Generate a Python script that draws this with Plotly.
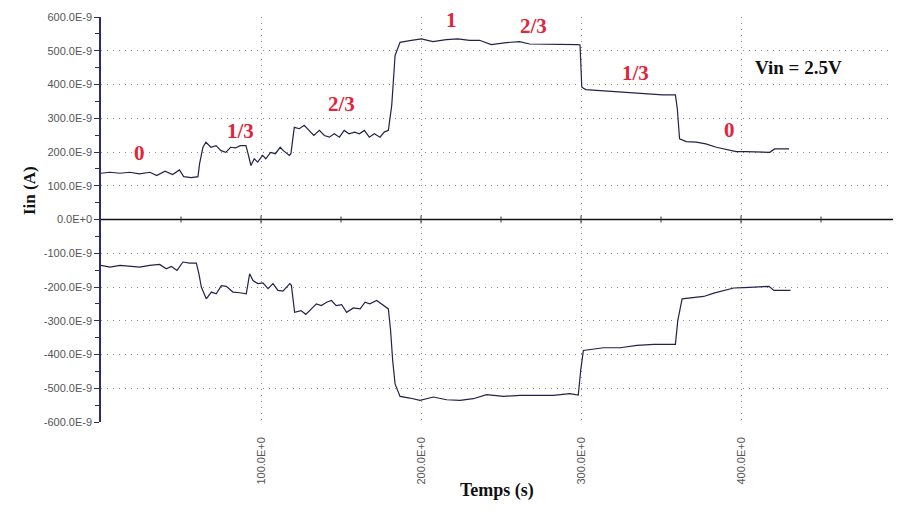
import plotly.graph_objects as go

# ---- data (time in s, current in nA) ----
t_pos = [0, 5.6, 11.9, 18, 24, 30.6, 34.8, 40, 44.8, 49,
         51.7, 56.4, 60.6, 61.6, 63.7, 65.6, 68.7, 71.9, 75, 78,
         81, 84, 87, 90.6, 91.7, 93.7, 95.8, 97.9, 101, 103,
         106, 109, 112, 114, 117.7, 118.7, 120.8, 124, 127, 130,
         133, 136.5, 139.6, 142.7, 145.8, 149, 152, 155, 158.5, 161.5,
         164.6, 167.7, 170.8, 174.4, 177, 179.6, 181.7, 183.8, 186.9, 193,
         200.2, 207.5, 215.8, 223, 230.4, 236.6, 243.9, 253.3, 261.6, 267.9,
         278.3, 288.7, 298, 299.4, 300.5, 303, 311.5, 320, 330, 341,
         351, 359, 360.2, 361.6, 365.8, 372, 378, 384.6, 390.8, 397,
         403, 412, 418, 421, 430]
v_pos = [137, 140, 137, 140, 135, 140, 130, 143, 133, 147,
         127, 124, 127, 165, 214, 229, 214, 219, 204, 199,
         214, 212, 219, 219, 199, 160, 180, 170, 190, 180,
         199, 195, 214, 204, 190, 195, 273, 269, 279, 264,
         249, 264, 249, 244, 254, 244, 264, 254, 259, 254,
         264, 244, 254, 244, 259, 264, 338, 486, 525, 530,
         535, 527, 533, 535, 531, 531, 518, 524, 527, 520,
         520, 518, 518, 517, 392, 385, 382, 379, 377, 372,
         369, 369, 328, 239, 231, 229, 224, 214, 207, 201,
         201, 199, 199, 209, 209]

t_neg = [0, 5.6, 11.9, 18, 24.2, 30.4, 36.7, 40.8, 44, 47.5,
         51.2, 55.4, 59.6, 61.2, 62.7, 65.8, 69, 72, 75.2, 78.3,
         82.5, 86.7, 90.8, 92.9, 95, 98, 101.2, 104.4, 107.5, 110.6,
         113.7, 118, 119, 121, 125, 128, 131.5, 134.6, 137.7, 141,
         144, 147, 150.4, 153.5, 157.7, 162, 165, 168, 172.3, 176.5,
         179.6, 181, 182.3, 183.8, 186.9, 193, 199.4, 207.7, 216, 224.4,
         232.7, 241, 251.5, 262, 272.3, 282.7, 293, 298.3, 299.8, 301.5,
         314, 324.4, 335, 345.4, 359, 360.5, 363.2, 370.5, 376.7, 383,
         389.2, 395.5, 401.8, 410, 417.5, 420.6, 431]
v_neg = [-136, -141, -136, -139, -141, -136, -133, -146, -139, -151,
         -126, -129, -129, -161, -200, -235, -215, -220, -196, -198,
         -215, -217, -220, -161, -181, -190, -188, -205, -190, -210,
         -212, -190, -195, -275, -270, -281, -265, -250, -255, -245,
         -240, -255, -252, -275, -262, -265, -245, -250, -240, -255,
         -265, -329, -418, -487, -524, -529, -536, -526, -534, -536,
         -531, -519, -524, -521, -522, -521, -516, -520, -447, -388,
         -380, -380, -373, -370, -370, -299, -235, -230, -228, -218,
         -210, -203, -202, -200, -198, -210, -210]

y_tickvals = [600, 500, 400, 300, 200, 100, 0, -100, -200, -300, -400, -500, -600]
y_ticktext = ["600.0E-9", "500.0E-9", "400.0E-9", "300.0E-9", "200.0E-9", "100.0E-9",
              "0.0E+0", "-100.0E-9", "-200.0E-9", "-300.0E-9", "-400.0E-9",
              "-500.0E-9", "-600.0E-9"]
y_minor = [550, 450, 350, 250, 150, 50, -50, -150, -250, -350, -450, -550]
x_tickvals = [100, 200, 300, 400, 500]
x_ticktext = ["100.0E+0", "200.0E+0", "300.0E+0", "400.0E+0", "500.0E+0"]
x_minor = [50, 150, 250, 350, 450]

labels_text = ["0", "1/3", "2/3", "1", "2/3", "1/3", "0"]
labels_t = [23.8, 87, 150, 218.8, 270, 334, 392.5]
labels_v = [197, 261, 342, 590, 572, 435, 264]

line_col = "#22224e"
red = "#e3233a"
grid_col = "#8a8a8a"
axis_col = "#2c2c6c"

fig = go.Figure()
fig.add_trace(go.Scatter(x=t_pos, y=v_pos, mode="lines",
                         line=dict(color=line_col, width=1.2), showlegend=False))
fig.add_trace(go.Scatter(x=t_neg, y=v_neg, mode="lines",
                         line=dict(color=line_col, width=1.2), showlegend=False))

# zero line (x axis crossing) with its tick marks
fig.add_shape(type="line", xref="paper", yref="y", x0=0, x1=1, y0=0, y1=0,
              line=dict(color="#111111", width=1.5), layer="above")
for xv, half in [(v, 4) for v in x_tickvals] + [(v, 3) for v in x_minor]:
    fig.add_shape(type="line", xref="x", yref="y", ysizemode="pixel", yanchor=0,
                  x0=xv, x1=xv, y0=-half, y1=half,
                  line=dict(color="#333333", width=1), layer="above")

for txt, tx, vy in zip(labels_text, labels_t, labels_v):
    fig.add_annotation(x=tx, y=vy, text=txt, showarrow=False,
                       font=dict(family="Liberation Serif", size=21, color=red, weight="bold"))

fig.add_annotation(x=436, y=449, text="Vin = 2.5V", showarrow=False,
                   font=dict(family="Liberation Serif", size=19, color="#111111", weight="bold"))

fig.add_annotation(xref="paper", yref="paper", x=0, y=0.5, xshift=-83, yshift=29,
                   text="Iin (A)", textangle=-90, showarrow=False,
                   font=dict(family="Liberation Serif", size=17, color="#111111", weight="bold"))
fig.add_annotation(xref="paper", yref="paper", x=0.495, y=0, yshift=-81,
                   text="Temps (s)", showarrow=False,
                   font=dict(family="Liberation Serif", size=18, color="#111111", weight="bold"))

fig.update_layout(
    width=893, height=513,
    margin=dict(l=93, r=0, t=9, b=99, autoexpand=False),
    paper_bgcolor="white", plot_bgcolor="white",
    xaxis=dict(range=[0, 500], tickmode="array", tickvals=x_tickvals, ticktext=x_ticktext,
               tickangle=-90, ticks="", ticklabelstandoff=12, ticklabeloverflow="allow",
               tickfont=dict(family="Liberation Sans", size=11, color="#555555"),
               showline=False, zeroline=False,
               showgrid=True, gridcolor=grid_col, gridwidth=1, griddash="1px,5px"),
    yaxis=dict(range=[-600, 600], tickmode="array", tickvals=y_tickvals, ticktext=y_ticktext,
               ticks="outside", ticklen=5, tickcolor=axis_col, tickwidth=1.2,
               tickfont=dict(family="Liberation Sans", size=11, color="#555555"),
               showline=True, linecolor=axis_col, linewidth=1.5, zeroline=False,
               showgrid=True, gridcolor=grid_col, gridwidth=1, griddash="1px,5px",
               minor=dict(tickmode="array", tickvals=y_minor, ticks="outside",
                          ticklen=4, tickcolor=axis_col, showgrid=False)),
)

fig.write_html("out.html")
